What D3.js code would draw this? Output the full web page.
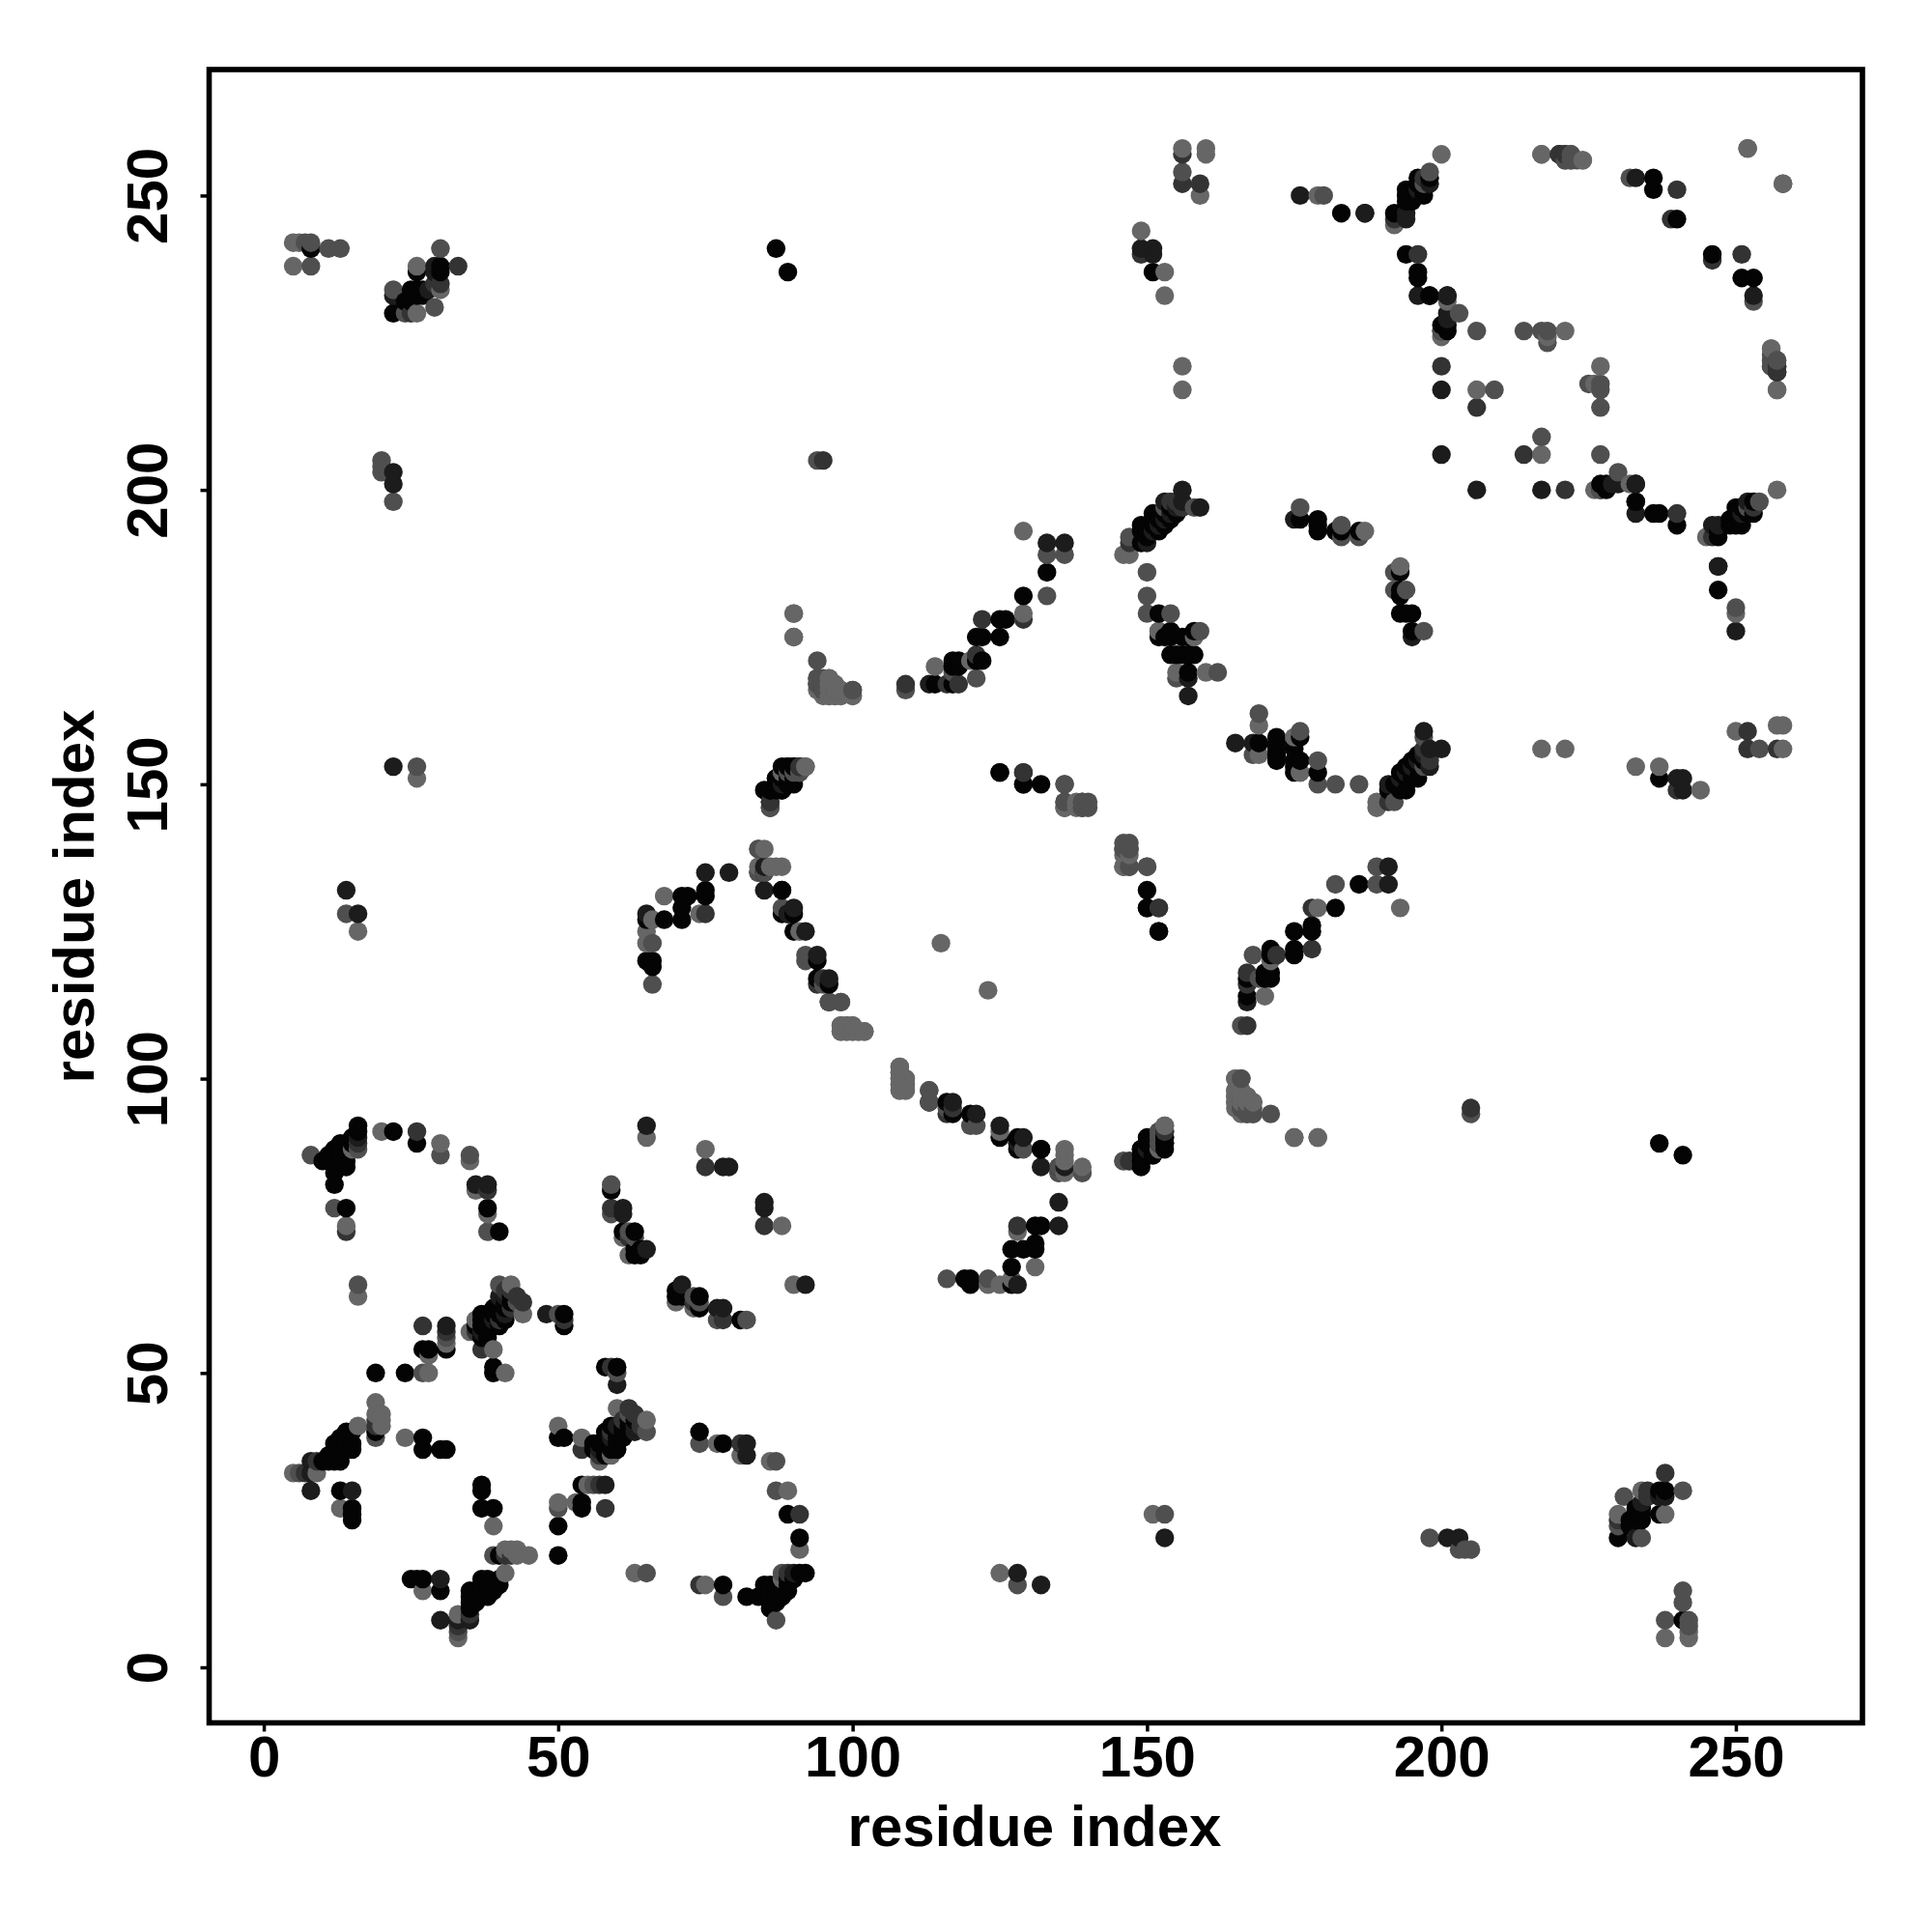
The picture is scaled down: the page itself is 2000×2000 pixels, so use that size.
<!DOCTYPE html>
<html><head><meta charset="utf-8">
<script src="https://cdn.jsdelivr.net/npm/d3@7"></script>
<style>html,body{margin:0;padding:0;background:#fff}svg{display:block}</style>
</head><body><svg id="c" width="2000" height="2000"></svg>
<script>
const tickValues = [0, 50, 100, 150, 200, 250];
const xTitle = "residue index";
const yTitle = "residue index";
const greyLevels = ["#040404", "#1c1c1c", "#333333", "#4f4f4f", "#666666"];

const contactsLevel0 = [[10,35],[11,35],[12,35],[13,35],[11,36],[12,36],[13,36],[12,37],[13,37],[14,37],[15,37],[12,38],[13,38],[14,38],[15,38],[13,39],[14,39],[14,40],[15,40],[19,40],[27,37],[27,39],[30,37],[31,37],[13,30],[15,25],[15,26],[15,27],[19,50],[24,50],[27,54],[28,54],[31,54],[39,50],[39,51],[51,58],[51,60],[36,58],[37,58],[37,60],[38,57],[38,59],[39,58],[39,60],[40,60],[40,62],[41,61],[42,63],[37,56],[38,56],[40,58],[41,59],[37,59],[38,60],[39,61],[40,61],[41,62],[42,62],[38,58],[40,74],[38,78],[61,74],[63,74],[63,70],[64,70],[63,71],[64,71],[59,81],[14,78],[12,82],[12,84],[11,86],[12,85],[12,86],[13,85],[13,86],[14,85],[14,86],[13,87],[14,87],[13,88],[14,88],[13,89],[14,89],[15,89],[15,90],[16,92],[16,91],[22,91],[26,89],[10,86],[11,87],[12,87],[12,88],[71,127],[71,129],[71,131],[72,131],[68,127],[66,119],[66,120],[65,120],[65,127],[75,131],[75,132],[85,135],[88,132],[88,128],[90,128],[90,125],[94,120],[94,117],[96,116],[96,113],[85,149],[86,149],[87,149],[87,150],[87,151],[88,149],[88,150],[88,151],[88,153],[89,150],[89,151],[89,153],[90,150],[90,153],[91,153],[87,241],[89,237],[8,241],[22,230],[24,232],[25,232],[25,233],[25,234],[26,233],[26,234],[27,233],[27,234],[26,237],[30,237],[30,238],[125,152],[129,150],[129,182],[133,186],[114,167],[117,167],[117,170],[117,171],[118,170],[118,171],[121,171],[122,171],[121,175],[122,175],[125,175],[125,178],[126,178],[149,86],[149,88],[150,87],[150,89],[151,87],[151,89],[151,90],[152,88],[152,89],[153,89],[153,90],[128,89],[132,88],[150,129],[150,132],[152,125],[149,191],[150,192],[149,193],[150,193],[149,194],[151,194],[152,193],[151,195],[152,195],[153,194],[153,196],[151,196],[154,195],[154,197],[155,196],[151,237],[152,179],[152,175],[154,175],[154,176],[154,172],[155,172],[156,172],[157,172],[158,172],[156,175],[157,175],[158,176],[157,169],[153,175],[176,195],[179,193],[179,194],[179,195],[182,193],[183,193],[186,193],[183,247],[192,247],[193,247],[194,249],[194,250],[194,251],[195,249],[195,250],[195,251],[196,250],[196,252],[196,253],[197,250],[197,251],[198,253],[194,240],[196,236],[196,237],[198,233],[200,228],[201,228],[227,201],[233,201],[233,198],[236,251],[236,253],[240,246],[247,187]];
const contactsLevel1 = [[8,35],[8,30],[15,30],[36,82],[38,82],[79,85],[78,85],[65,92],[65,71],[61,78],[61,77],[14,132],[16,128],[16,90],[85,132],[75,135],[79,135],[22,153],[22,201],[22,203],[22,233],[28,234],[29,237],[29,238],[65,128],[90,129],[89,128],[92,125],[94,121],[96,117],[85,136],[48,60],[31,58],[153,198],[156,198],[156,200],[159,197],[175,195],[176,250],[187,247],[133,191],[136,191],[149,241],[151,241],[151,240],[157,165],[157,168],[113,167],[150,88],[200,217],[200,206],[201,230],[201,229],[196,233],[233,253],[227,200],[201,233],[194,246],[194,247],[198,252],[257,220],[33,8],[37,57],[39,59],[150,191],[151,193],[152,194],[153,195],[154,196],[155,197],[196,251],[41,60],[40,63],[41,63]];
const contactsLevel2 = [[7,33],[9,35],[19,41],[19,42],[37,54],[27,58],[31,57],[44,62],[51,59],[59,78],[14,74],[75,85],[75,128],[38,81],[16,89],[26,91],[84,135],[86,147],[95,205],[109,167],[118,167],[121,172],[122,178],[129,178],[129,152],[147,86],[153,91],[94,116],[95,117],[116,167],[152,129],[147,191],[156,197],[154,198],[155,198],[156,252],[159,252],[156,257],[149,240],[25,230],[33,238],[30,235],[29,235],[192,246],[197,253],[196,240],[240,251],[239,246],[206,214],[200,221],[62,73],[257,221],[220,257],[221,257],[221,256],[41,64],[42,64],[42,61],[40,59],[36,57],[43,63],[95,166]];
const contactsLevel3 = [[6,33],[8,87],[8,238],[7,242],[8,242],[11,241],[13,241],[16,65],[19,39],[27,50],[31,56],[40,65],[43,62],[50,60],[12,78],[59,82],[59,77],[63,73],[62,74],[38,74],[35,87],[30,87],[14,128],[66,116],[66,123],[84,139],[86,146],[88,129],[91,152],[90,152],[89,152],[92,121],[92,120],[98,113],[94,171],[94,168],[94,167],[95,168],[95,167],[100,166],[109,166],[94,205],[90,175],[117,169],[121,168],[133,182],[133,189],[136,189],[136,150],[136,147],[139,147],[140,147],[139,146],[140,146],[146,139],[147,139],[147,136],[150,136],[135,84],[135,85],[139,84],[146,86],[152,91],[113,96],[113,98],[116,95],[147,192],[150,186],[150,182],[150,179],[154,179],[158,197],[153,197],[156,254],[26,153],[22,234],[24,230],[29,231],[30,241],[155,168],[162,169],[159,176],[180,250],[183,192],[183,194],[186,192],[176,197],[197,252],[198,254],[209,217],[214,227],[217,227],[218,227],[218,225],[206,227],[200,227],[22,198],[20,205],[20,203],[20,204],[232,253],[256,223],[257,222],[252,258],[203,230],[16,88],[222,257],[222,256],[256,221],[256,222],[166,100],[166,97],[166,96],[167,94],[168,94],[166,95]];
const contactsLevel4 = [[5,33],[9,33],[5,238],[5,242],[6,242],[16,41],[19,45],[19,43],[20,41],[20,42],[20,43],[24,39],[13,27],[16,63],[28,50],[28,53],[31,55],[35,57],[36,59],[39,54],[41,50],[42,65],[44,60],[15,88],[20,91],[30,89],[35,86],[38,77],[36,81],[65,90],[75,88],[14,75],[62,70],[61,73],[66,127],[65,123],[65,125],[68,131],[74,128],[16,125],[26,151],[84,136],[85,139],[86,136],[87,136],[88,136],[90,179],[92,153],[88,152],[96,168],[94,166],[96,167],[96,166],[95,165],[96,165],[97,165],[97,166],[97,167],[98,165],[98,166],[100,165],[114,170],[120,171],[129,179],[129,193],[136,146],[146,138],[147,138],[146,136],[149,244],[153,237],[153,233],[156,221],[156,217],[156,258],[160,258],[160,257],[159,250],[146,189],[147,189],[152,176],[155,169],[160,169],[115,123],[108,102],[108,101],[108,100],[108,99],[108,98],[109,100],[109,99],[109,98],[98,109],[99,109],[100,109],[98,108],[99,108],[100,108],[101,108],[102,108],[91,125],[153,92],[165,100],[165,98],[165,97],[165,96],[166,98],[167,97],[167,96],[168,96],[175,90],[179,90],[175,158],[176,152],[200,257],[217,257],[224,256],[179,250],[187,193],[192,245],[206,217],[221,227],[218,226],[200,226],[201,232],[26,230],[26,238],[30,234],[256,224],[257,217],[258,252]];

const allContacts = [contactsLevel0, contactsLevel1, contactsLevel2, contactsLevel3, contactsLevel4]
  .flatMap((list, level) => list.map(([i, j]) => ({ i, j, level })));
// contact maps are symmetric: each residue pair appears on both sides of the diagonal
const points = allContacts.flatMap(d => [{ x: d.i, y: d.j, level: d.level }, { x: d.j, y: d.i, level: d.level }]);
points.sort((a, b) => d3.ascending(a.x, b.x) || d3.ascending(a.y, b.y));

const svg = d3.select("#c");
const x = d3.scaleLinear().domain([-9.2, 271.5]).range([217, 1928]);
const y = d3.scaleLinear().domain([-9.35, 271.4]).range([1783, 72]);
const grey = d3.scaleOrdinal().domain([0, 1, 2, 3, 4]).range(greyLevels);
const font = "'Liberation Sans', Arial, sans-serif";

svg.append("g").selectAll("circle").data(points).join("circle")
  .attr("cx", d => x(d.x)).attr("cy", d => y(d.y)).attr("r", 9.7)
  .attr("fill", d => grey(d.level));

svg.append("rect").attr("x", 216.5).attr("y", 72).attr("width", 1711.5).attr("height", 1711.5)
  .attr("fill", "none").attr("stroke", "#000").attr("stroke-width", 5.6);

const gx = svg.append("g").attr("transform", "translate(0,1783.5)")
  .call(d3.axisBottom(x).tickValues(tickValues).tickSize(9).tickFormat(d3.format("d")));
const gy = svg.append("g").attr("transform", "translate(216.5,0)")
  .call(d3.axisLeft(y).tickValues(tickValues).tickSize(9).tickFormat(d3.format("d")));
gx.select(".domain").remove(); gy.select(".domain").remove();
svg.selectAll(".tick line").attr("stroke", "#000").attr("stroke-width", 3.5);
svg.selectAll(".tick text").attr("fill", "#000").style("font-family", font).style("font-size", "60px").style("font-weight", "700");
gx.selectAll(".tick text").attr("dy", null).attr("y", 55);
gy.selectAll(".tick text").attr("x", null).attr("dy", null).attr("text-anchor", "middle")
  .attr("transform", "translate(-44,0) rotate(-90)").attr("y", 0);

svg.append("text").attr("x", 1071).attr("y", 1911).attr("text-anchor", "middle")
  .style("font-family", font).style("font-size", "60px").style("font-weight", "700").text(xTitle);
svg.append("text").attr("transform", "translate(97,928) rotate(-90)").attr("text-anchor", "middle")
  .style("font-family", font).style("font-size", "60px").style("font-weight", "700").text(yTitle);
</script></body></html>
